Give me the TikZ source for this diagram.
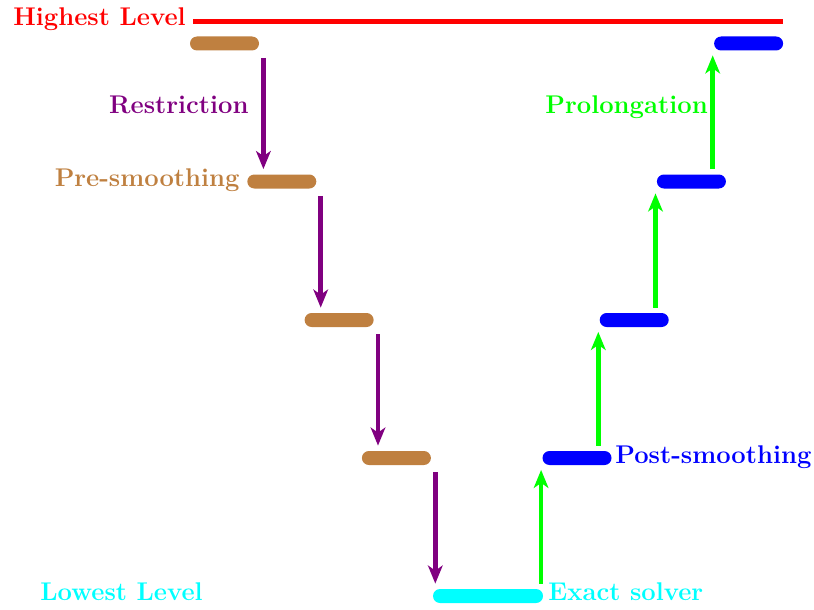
\documentclass[tikz,border=0pt]{standalone}
\usetikzlibrary{arrows.meta}
\definecolor{solvercyan}{RGB}{0,255,255}
\definecolor{upgreen}{RGB}{0,255,0}

\begin{document}
\begin{tikzpicture}[
    x=0.5pt, y=-0.5pt,
    every node/.style={inner sep=0pt, font=\fontsize{12.8}{15}\selectfont\bfseries},
    bar/.style={rectangle, fill, rounded corners=3.5pt, minimum width=34.5pt, minimum height=7pt},
    solverbar/.style={bar, minimum width=55pt},
    restrict/.style={violet, line width=2.35pt, shorten <=3.5pt, shorten >=2.5pt,
                     -{Stealth[length=9pt, width=7.3pt, inset=2.5pt]}},
    prolong/.style={upgreen, line width=2.35pt, shorten <=2.5pt, shorten >=2.25pt,
                    -{Stealth[length=9pt, width=7.3pt, inset=2.5pt]}},
]
  \useasboundingbox (0,0) rectangle (814,610);

  % levels going down
  \node [bar, brown]            (r0) at (224.5, 43.5) {};
  \node [bar, brown]            (r1) at (281.8,181.5) {};
  \node [bar, brown]            (r2) at (339.1,320  ) {};
  \node [bar, brown]            (r3) at (396.4,458  ) {};
  \node [solverbar, solvercyan] (c)  at (488  ,596  ) {};
  % levels going up
  \node [bar, blue]             (p0) at (577  ,458  ) {};
  \node [bar, blue]             (p1) at (634.2,320  ) {};
  \node [bar, blue]             (p2) at (691.4,181.5) {};
  \node [bar, blue]             (p3) at (748.6, 43.5) {};

  \node [red, anchor=base west]        (high)   at (13 ,26 ) {Highest Level};
  \node [solvercyan, anchor=base west] (low)    at (40 ,600) {Lowest Level};
  \node [violet, anchor=base east]     (rlabel) at (249,113) {Restriction};
  \node [brown, anchor=base east]      (pre)    at (240,186) {Pre-smoothing};
  \node [upgreen, anchor=base west]    (plabel) at (545,113) {Prolongation};
  \node [blue, anchor=base west]       (post)   at (615,463) {Post-smoothing};
  \node [solvercyan, anchor=base west] (exact)  at (548,600) {Exact solver};

  \coordinate (top end) at (783,21.5);
  \draw [red, line width=2.6pt] ([xshift=3.5pt]high.east |- top end) -- (top end);

  \draw [restrict] ([xshift=2pt]r0.south east) -- ([xshift=2pt]r0.east |- r1.north);
  \draw [restrict] ([xshift=2pt]r1.south east) -- ([xshift=2pt]r1.east |- r2.north);
  \draw [restrict] ([xshift=2pt]r2.south east) -- ([xshift=2pt]r2.east |- r3.north);
  \draw [restrict] ([xshift=2pt]r3.south east) -- ([xshift=2pt]r3.east |- c.north);

  \draw [prolong] ([xshift=-0.5pt]p0.west |- c.north)  -- ([xshift=-0.5pt]p0.south west);
  \draw [prolong] ([xshift=-0.5pt]p1.west |- p0.north) -- ([xshift=-0.5pt]p1.south west);
  \draw [prolong] ([xshift=-0.5pt]p2.west |- p1.north) -- ([xshift=-0.5pt]p2.south west);
  \draw [prolong] ([xshift=-0.5pt]p3.west |- p2.north) -- ([xshift=-0.5pt]p3.south west);
\end{tikzpicture}
\end{document}
